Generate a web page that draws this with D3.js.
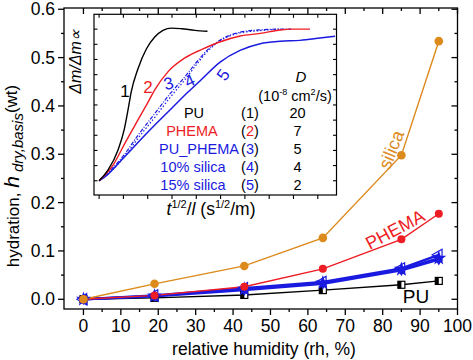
<!DOCTYPE html>
<html><head><meta charset="utf-8">
<script src="https://cdn.jsdelivr.net/npm/d3@7"></script>
<style>body{margin:0;background:#fff}svg{display:block}text{font-family:"Liberation Sans",Arial,sans-serif}</style>
</head><body><svg id="c" width="473" height="360"></svg>
<script>
// ---- main chart data ----
const rh = [0, 19, 43, 64, 85, 95];
const silica = [0, 0.032, 0.069, 0.127, 0.298, 0.534];
const phema = [0, 0.008, 0.026, 0.063, 0.124, 0.177];
const puPhema = [0, 0.007, 0.021, 0.034, 0.062, 0.085];
const silica10 = [0, 0.008, 0.023, 0.036, 0.064, 0.092];
const silica15 = [0, 0.006, 0.019, 0.032, 0.060, 0.082];
const pu = [0, 0.003, 0.009, 0.019, 0.030, 0.038];
const xTicks = [0,10,20,30,40,50,60,70,80,90,100];
const yTicks = [0.0,0.1,0.2,0.3,0.4,0.5,0.6];
// ---- inset data (t^1/2/l , Δm/Δm∞) ----
const c1x = [0,0.37,0.78,1.03,1.19,1.32,1.60,1.95,2.29,2.63,2.98,3.39,3.94,4.46];
const c1y = [0,0.071,0.203,0.335,0.467,0.585,0.739,0.871,0.948,0.992,1.007,1.003,0.992,0.986];
const c2x = [0,0.58,1.06,1.60,2.02,2.29,2.84,3.53,4.21,4.90,5.80,6.63,7.45,7.86,8.68];
const c2y = [0,0.104,0.247,0.401,0.520,0.600,0.720,0.810,0.865,0.912,0.955,0.972,0.994,1.0,1.0];
const c3x = [0,0.5,1.0,1.6,2.3,2.9,3.5,4.0,4.5,5.0,5.8,6.6,7.45,7.9];
const c3y = [0,0.075,0.165,0.30,0.445,0.57,0.68,0.78,0.87,0.93,0.98,0.995,1.0,1.0];
const c4x = [0,0.5,1.0,1.6,2.3,2.9,3.5,4.0,4.5,5.0,5.8,6.6,7.45];
const c4y = [0,0.065,0.15,0.28,0.42,0.545,0.66,0.765,0.86,0.925,0.975,0.99,1.0];
const c5x = [0,0.2,1.0,2.0,3.0,3.66,4.16,4.98,5.80,6.63,7.45,8.27,9.09,9.71];
const c5y = [0,0.02,0.15,0.32,0.48,0.585,0.66,0.783,0.86,0.904,0.92,0.926,0.941,0.953];
const legNames = ["PU","PHEMA","PU_PHEMA","10% silica","15% silica"];
const legIdx = ["1","2","3","4","5"];
const legD = ["20","7","5","4","2"];

const ORANGE="#dd8a1c", RED="#ee1c24", BLUE="#1a1ae0", BLACK="#000";
const svg = d3.select("#c");
const L=64,R=457.5,T=8,B=309;
const x = d3.scaleLinear().domain([-5.2,100]).range([L,R]);
const y = d3.scaleLinear().domain([-0.0201,0.6026]).range([B,T]);

// frame + axes
const ax = svg.append("g").attr("stroke",BLACK).attr("stroke-width",1.3);
ax.append("rect").attr("x",L).attr("y",T).attr("width",R-L).attr("height",B-T).attr("fill","none");
const minorX = d3.range(0,101,5), minorY = d3.range(0,0.61,0.05);
minorX.forEach(v=>{const maj=v%10===0, len=maj?6:3;
  ax.append("line").attr("x1",x(v)).attr("x2",x(v)).attr("y1",B).attr("y2",B+len);
  ax.append("line").attr("x1",x(v)).attr("x2",x(v)).attr("y1",T).attr("y2",T+len);});
minorY.forEach((v,i)=>{const maj=i%2===0, len=maj?6:3;
  ax.append("line").attr("y1",y(v)).attr("y2",y(v)).attr("x1",L).attr("x2",L-len);
  ax.append("line").attr("y1",y(v)).attr("y2",y(v)).attr("x1",R).attr("x2",R-len);});
svg.append("g").selectAll("text").data(xTicks).join("text")
  .attr("x",d=>x(d)).attr("y",332).attr("text-anchor","middle").attr("font-size",17.5).text(d=>d);
svg.append("g").selectAll("text").data(yTicks).join("text")
  .attr("x",55).attr("y",d=>y(d)+6).attr("text-anchor","end").attr("font-size",17.5).text(d=>d.toFixed(1));
svg.append("text").attr("x",264).attr("y",355).attr("text-anchor","middle").attr("font-size",17.5).text("relative humidity (rh, %)");
const yl = svg.append("text").attr("transform","translate(19,176) rotate(-90)").attr("text-anchor","middle").attr("font-size",17);
yl.append("tspan").text("hydration, ");
yl.append("tspan").attr("font-style","italic").attr("font-size",21).text("h");
yl.append("tspan").attr("font-style","italic").attr("font-size",15).attr("dy",4).text(" dry,basis");
yl.append("tspan").attr("dy",-6).text("(wt)");

// series
const line = d3.line().x(d=>x(d[0])).y(d=>y(d[1]));
function series(vals,color,w){ svg.append("path").datum(rh.map((r,i)=>[r,vals[i]]))
  .attr("d",line).attr("fill","none").attr("stroke",color).attr("stroke-width",w); }
series(pu,BLACK,1.4);
series(silica15,BLUE,2.4);
series(silica10,BLUE,2.4);
series(puPhema,BLUE,2.4);
series(phema,RED,1.4);
series(silica,ORANGE,1.4);
// markers
rh.forEach((r,i)=>{ // PU half-filled squares
  const g=svg.append("g").attr("transform",`translate(${x(r)},${y(pu[i])})`);
  g.append("rect").attr("x",-3.5).attr("y",-3.5).attr("width",7).attr("height",7).attr("fill","#fff").attr("stroke",BLACK).attr("stroke-width",1.2);
  g.append("rect").attr("x",-3.5).attr("y",-3.5).attr("width",3.5).attr("height",7).attr("fill",BLACK);
});
const triL = d3.symbol().type(d3.symbolTriangle).size(55);
rh.forEach((r,i)=>{
  svg.append("path").attr("d",triL()).attr("transform",`translate(${x(r)},${y(silica10[i])}) rotate(-90)`).attr("fill","none").attr("stroke",BLUE).attr("stroke-width",1.2);
  svg.append("path").attr("d",d3.symbol().type(d3.symbolDiamond).size(40)()).attr("transform",`translate(${x(r)},${y(silica15[i])})`).attr("fill",BLUE);
  svg.append("path").attr("d",d3.symbol().type(d3.symbolStar).size(70)()).attr("transform",`translate(${x(r)},${y(puPhema[i])})`).attr("fill",BLUE);
});
svg.append("g").selectAll("circle").data(rh).join("circle").attr("cx",d=>x(d)).attr("cy",(d,i)=>y(phema[i])).attr("r",4).attr("fill",RED);
svg.append("g").selectAll("circle").data(rh).join("circle").attr("cx",d=>x(d)).attr("cy",(d,i)=>y(silica[i])).attr("r",4.3).attr("fill",ORANGE);
// series labels
svg.append("text").attr("transform","translate(397,152) rotate(-68)").attr("text-anchor","middle").attr("font-size",18).attr("fill",ORANGE).text("silica");
svg.append("text").attr("transform","translate(398,235) rotate(-28)").attr("text-anchor","middle").attr("font-size",18).attr("fill",RED).text("PHEMA");
svg.append("text").attr("x",416).attr("y",303).attr("text-anchor","middle").attr("font-size",19).attr("fill",BLACK).text("PU");

// ---- inset ----
const IL=94,IR=336.5,IT=14.3,IB=195;
const ix = d3.scaleLinear().domain([-0.21,9.77]).range([IL,IR]);
const iy = d3.scaleLinear().domain([-0.094,1.098]).range([IB,IT]);
svg.append("rect").attr("x",IL).attr("y",IT).attr("width",IR-IL).attr("height",IB-IT).attr("fill","#fff").attr("stroke",BLACK).attr("stroke-width",1.2);
const ia = svg.append("g").attr("stroke",BLACK).attr("stroke-width",1.1);
d3.range(0,10).forEach(v=>{
  ia.append("line").attr("x1",ix(v)).attr("x2",ix(v)).attr("y1",IB).attr("y2",IB+4);
  ia.append("line").attr("x1",ix(v)).attr("x2",ix(v)).attr("y1",IT).attr("y2",IT+3.5);});
d3.range(0,11).forEach(k=>{const v=k/10;
  ia.append("line").attr("y1",iy(v)).attr("y2",iy(v)).attr("x1",IL).attr("x2",IL+3.5);
  ia.append("line").attr("y1",iy(v)).attr("y2",iy(v)).attr("x1",IR).attr("x2",IR-3.5);});
const il = d3.line().x(d=>ix(d[0])).y(d=>iy(d[1])).curve(d3.curveMonotoneX);
function curve(xs,ys,color,dash,w){ svg.append("path").datum(xs.map((v,i)=>[v,ys[i]])).attr("d",il)
  .attr("fill","none").attr("stroke",color).attr("stroke-width",w).attr("stroke-dasharray",dash); }
curve(c5x,c5y,BLUE,null,1.5);
curve(c4x,c4y,BLUE,"1.5,2",1.2);
curve(c3x,c3y,BLUE,"4,1.5,1,1.5",1.2);
curve(c2x,c2y,RED,null,1.4);
curve(c1x,c1y,BLACK,null,1.4);
// curve labels
const cl=[["1",125,97,BLACK,0],["2",148,93,RED,0],["3",170,89,BLUE,-15],["4",192,86,BLUE,-25],["5",228,78,BLUE,-55]];
cl.forEach(d=>svg.append("text").attr("transform",`translate(${d[1]},${d[2]}) rotate(${d[4]})`).attr("text-anchor","middle").attr("font-size",17).attr("fill",d[3]).text(d[0]));
// inset labels
svg.append("text").attr("transform","translate(81,62) rotate(-90)").attr("text-anchor","middle").attr("font-size",16).attr("font-style","italic").text("\u0394m/\u0394m\u221D");
const xl = svg.append("text").attr("x",211).attr("y",215).attr("text-anchor","middle").attr("font-size",17.5);
xl.append("tspan").attr("font-style","italic").text("t");
xl.append("tspan").attr("font-size",11).attr("dy",-7).text("1/2");
xl.append("tspan").attr("dy",7).text("/");
xl.append("tspan").attr("font-style","italic").text("l");
xl.append("tspan").text(" (s");
xl.append("tspan").attr("font-size",11).attr("dy",-7).text("1/2");
xl.append("tspan").attr("dy",7).text("/m)");
// legend table
const legCol=[BLACK,RED,BLUE,BLUE,BLUE];
const legCx=[194,192,199,193,193];
legNames.forEach((n,i)=>{ const yy=118+i*18;
  svg.append("text").attr("x",legCx[i]).attr("y",yy).attr("text-anchor","middle").attr("font-size",14.5).attr("fill",legCol[i]).text(n);
  const t=svg.append("text").attr("x",250).attr("y",yy).attr("text-anchor","middle").attr("font-size",14.5);
  t.append("tspan").text("(");
  t.append("tspan").attr("fill",legCol[i]).text(legIdx[i]);
  t.append("tspan").text(")");
  svg.append("text").attr("x",297.5).attr("y",yy).attr("text-anchor","middle").attr("font-size",14.5).text(legD[i]);
});
svg.append("text").attr("x",301).attr("y",82).attr("text-anchor","middle").attr("font-size",15).attr("font-style","italic").text("D");
const hd = svg.append("text").attr("x",295).attr("y",101).attr("text-anchor","middle").attr("font-size",14.5);
hd.append("tspan").text("(10");
hd.append("tspan").attr("font-size",9).attr("dy",-6).text("-8");
hd.append("tspan").attr("dy",6).text(" cm");
hd.append("tspan").attr("font-size",9).attr("dy",-6).text("2");
hd.append("tspan").attr("dy",6).text("/s)");
</script></body></html>
